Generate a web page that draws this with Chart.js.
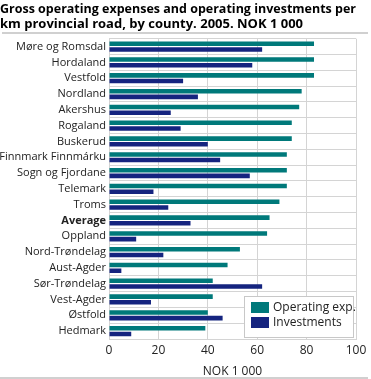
<!DOCTYPE html>
<html>
<head>
<meta charset="utf-8">
<script src="https://cdn.jsdelivr.net/npm/chart.js@4"></script>
<style>
  html, body { margin: 0; padding: 0; background: #fff; }
  #wrap { width: 371px; height: 379px; position: relative; }
</style>
</head>
<body>
<div id="wrap"><canvas id="chart" width="371" height="379"></canvas></div>
<script>
// Data
const counties = ['Møre og Romsdal', 'Hordaland', 'Vestfold', 'Nordland', 'Akershus', 'Rogaland',
  'Buskerud', 'Finnmark Finnmárku', 'Sogn og Fjordane', 'Telemark', 'Troms', 'Average', 'Oppland',
  'Nord-Trøndelag', 'Aust-Agder', 'Sør-Trøndelag', 'Vest-Agder', 'Østfold', 'Hedmark'];
const operatingExp = [83, 83, 83, 78, 77, 74, 74, 72, 72, 72, 69, 65, 64, 53, 48, 42, 42, 40, 39];
const investments = [62, 58, 30, 36, 25, 29, 40, 45, 57, 18, 24, 33, 11, 22, 5, 62, 17, 46, 9];
const xTicks = [0, 20, 40, 60, 80, 100];

const FONT = '"Open Sans", "DejaVu Sans", sans-serif';
const gridColor = '#d4d4d4';

// lines under title and at bottom + legend box inside the plot
const decor = {
  id: 'decor',
  afterDraw(chart) {
    const c = chart.ctx;
    c.save();
    c.fillStyle = '#d0d0d0';
    c.fillRect(2, 32, 366, 2);
    c.fillRect(0, 377, 368, 2);

    // legend
    const x0 = 244, y0 = 296, w = 109, h = 41;
    c.fillStyle = '#fff';
    c.fillRect(x0, y0, w, h);
    c.strokeStyle = '#c8c8c8';
    c.lineWidth = 1;
    c.strokeRect(x0 + 0.5, y0 + 0.5, w, h);
    c.font = '12px ' + FONT;
    c.textBaseline = 'middle';
    chart.data.datasets.forEach((ds, i) => {
      const y = y0 + 6 + i * 15;
      c.fillStyle = ds.backgroundColor;
      c.fillRect(x0 + 7, y, 18, 11);
      c.fillStyle = '#222';
      c.fillText(ds.label, x0 + 29, y + 5.5);
    });
    c.restore();
  }
};

new Chart(document.getElementById('chart'), {
  type: 'bar',
  data: {
    labels: counties,
    datasets: [
      { label: 'Operating exp.', data: operatingExp, backgroundColor: '#00797a' },
      { label: 'Investments', data: investments, backgroundColor: '#15247f' }
    ]
  },
  options: {
    indexAxis: 'y',
    responsive: false,
    animation: false,
    layout: { padding: { left: 0, right: 15, top: 0, bottom: 0 } },
    datasets: { bar: { categoryPercentage: 0.72, barPercentage: 0.8 } },
    plugins: {
      legend: { display: false },
      tooltip: { enabled: false },
      title: {
        display: true,
        text: ['Gross operating expenses and operating investments per', 'km provincial road, by county. 2005. NOK 1 000'],
        align: 'start',
        color: '#000',
        font: { family: FONT, size: 13, weight: 'bold', lineHeight: 1.22 },
        padding: { top: 1, bottom: 6 }
      }
    },
    scales: {
      x: {
        min: 0, max: 100,
        afterBuildTicks: s => { s.ticks = xTicks.map(v => ({ value: v })); },
        ticks: { color: '#222', font: { family: FONT, size: 12 }, padding: 4 },
        grid: { color: gridColor, drawTicks: false },
        border: { color: gridColor },
        title: { display: true, text: 'NOK 1 000', color: '#222', font: { family: FONT, size: 12 }, padding: { top: 1, bottom: 0 } },
        afterFit: s => { s.height = 40; }
      },
      y: {
        ticks: {
          color: '#222',
          padding: 3,
          autoSkip: false,
          font: ctx => ({ family: FONT, size: 11, weight: ctx.tick && ctx.tick.label === 'Average' ? 'bold' : 'normal' })
        },
        grid: { color: gridColor, drawTicks: false, offset: true },
        border: { color: gridColor },
        afterFit: s => { s.width = 109; }
      }
    }
  },
  plugins: [decor]
});
</script>
</body>
</html>
